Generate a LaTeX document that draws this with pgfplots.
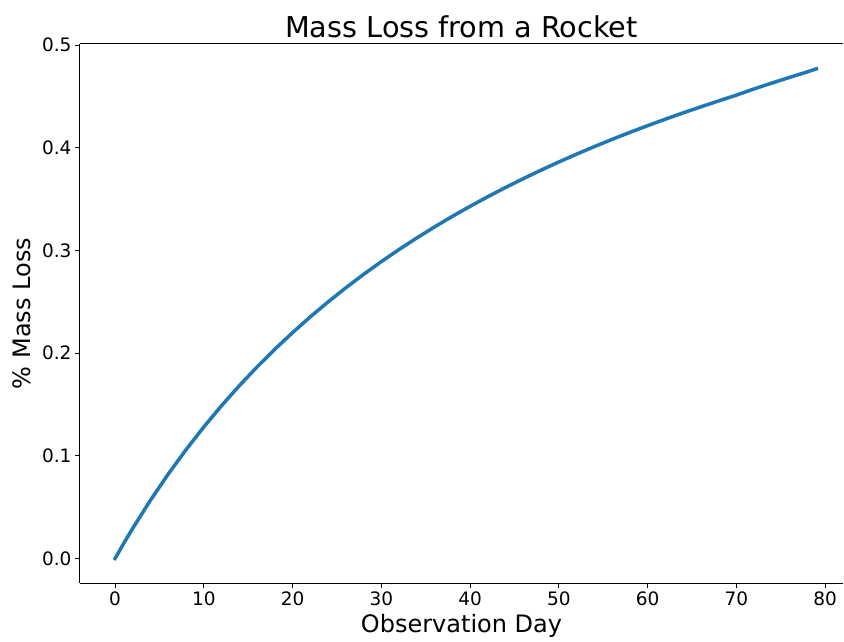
\documentclass[border=0pt]{standalone}
\usepackage{pgfplots}
\pgfplotsset{compat=1.18}
\usepackage{fontspec}
\setmainfont{DejaVu Sans}
\definecolor{mplblue}{HTML}{1F77B4}
\begin{document}
\begin{tikzpicture}
\begin{axis}[
  name=ax,
  scale only axis,
  width=763pt, height=539pt,
  xmin=-3.95, xmax=82.0,
  ymin=-0.0239, ymax=0.5012,
  axis lines*=left,
  axis line style={line width=1pt, black},
  tick align=outside,
  tick style={line width=1pt, black},
  major tick length=5pt,
  xtick={0,10,20,30,40,50,60,70,80},
  ytick={0,0.1,0.2,0.3,0.4,0.5},
  /pgf/number format/assume math mode=true,
  yticklabel style={/pgf/number format/fixed, /pgf/number format/precision=1, /pgf/number format/fixed zerofill},
  ticklabel style={font=\fontsize{18.5}{21}\selectfont},
  xlabel={Observation Day},
  ylabel={\% Mass Loss},
  label style={font=\fontsize{24}{27}\selectfont},
  xlabel style={yshift=-2pt},
  ylabel style={yshift=4pt},
  title={Mass Loss from a Rocket},
  title style={font=\fontsize{28.7}{32}\selectfont, yshift=-3pt},
  clip=false,
]
\draw[line width=1pt, black] (rel axis cs:0,1) -- (rel axis cs:1,1);
\addplot[mplblue, line width=3.5pt, line cap=rect] coordinates {
(0,0) (1,0.01505) (2,0.02953) (4,0.05689) (6,0.08233) (8,0.10603) (10,0.12817)
(12,0.14890) (14,0.16834) (16,0.18663) (18,0.20384) (20,0.22008) (22,0.23543)
(24,0.24996) (26,0.26373) (28,0.27680) (30,0.28922) (32,0.30104) (34,0.31230)
(36,0.32304) (38,0.33330) (40,0.34311) (42,0.35249) (44,0.36148) (46,0.37010)
(48,0.37836) (50,0.38630) (52,0.39392) (54,0.40126) (56,0.40832) (58,0.41512)
(60,0.42168) (62,0.42800) (64,0.43411) (66,0.44000) (68,0.44580) (70,0.45140)
(72,0.45750) (74,0.46320) (76,0.46870) (78,0.47410) (79,0.47700)
};
\end{axis}
\pgfresetboundingbox
\path ([shift={(-80pt,-58pt)}]ax.south west) rectangle ([shift={(1pt,44pt)}]ax.north east);
\end{tikzpicture}
\end{document}
